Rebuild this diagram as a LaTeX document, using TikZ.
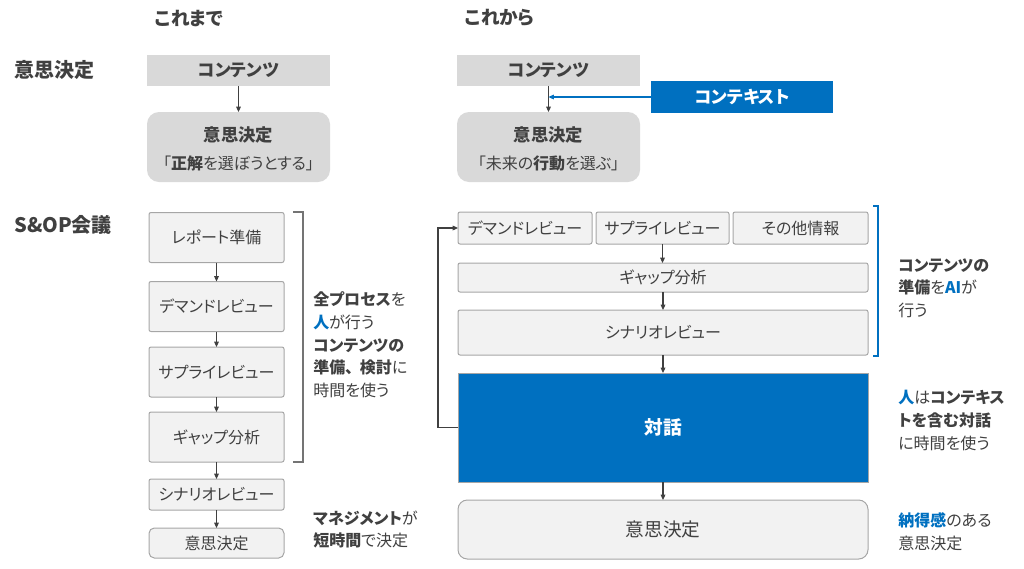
\documentclass[tikz,border=0pt]{standalone}
\usepackage{fontspec}
\setmainfont{Noto Sans CJK JP}[RawFeature=+palt]
\usetikzlibrary{arrows.meta}

\begin{document}
\begin{tikzpicture}[x=0.75pt, y=-0.75pt,
	txt/.style={text=textgray, font=\fontsize{12}{14}\selectfont, inner sep=0pt},
	head/.style={anchor=west, text=textgray, font=\fontsize{14}{17}\selectfont\bfseries, inner sep=0pt},
	side/.style={anchor=west, text=textgray, font=\fontsize{15}{18}\selectfont\bfseries, inner sep=0pt},
	topbox/.style={fill=topgray, minimum width=137.25pt, inner sep=0pt, outer sep=0pt,
		text=textgray, font=\fontsize{13}{15}\selectfont\bfseries},
	proc/.style={draw=linegray, fill=boxgray, line width=0.75pt, rounded corners=1.5pt,
		inner sep=0pt, outer sep=0pt, text=textgray, font=\fontsize{12}{14}\selectfont},
	flow/.style={draw=arrowgray, line width=0.8pt, -{Triangle[length=4pt, width=3.5pt]}},
	bracket/.style={line width=0.8pt},
	note/.style={anchor=west, align=left, inner sep=0pt, text=textgray,
		font=\fontsize{12}{17}\selectfont},
]
	\definecolor{textgray}{RGB}{64, 64, 64};
	\definecolor{arrowgray}{RGB}{64, 64, 64};
	\definecolor{topgray}{RGB}{217, 217, 217};
	\definecolor{boxgray}{RGB}{242, 242, 242};
	\definecolor{linegray}{RGB}{166, 166, 166};
	\definecolor{ctxblue}{RGB}{0, 112, 192};

	% \hl#text : bold blue words
	\def\hl#1{{\bfseries\color{ctxblue}#1}}

	\useasboundingbox (0,0) rectangle (1024,568);

	% headings
	\node[head] (old) at (155,18) {これまで};
	\node[head] (new) at (465,18) {これから};
	\node[side] (lbl1) at (14,70) {意思決定};
	\node[side] (lbl2) at (14,225) {S\&OP会議};

	% decision, before
	\node[topbox, minimum height=23.25pt] (cont1) at (238.5,70.5) {コンテンツ};
	\node[topbox, rounded corners=9pt, minimum height=52.5pt] (dec1) at (238.5,147) {};
	\node[txt, font=\fontsize{13}{15}\selectfont\bfseries] (dec1t) at (238.5,135) {意思決定};
	\node[txt] (dec1s) at (238.5,163) {「\textbf{正解}を選ぼうとする」};
	\draw[flow] (cont1) -- (dec1);

	% decision, after
	\node[topbox, minimum height=23.25pt] (cont2) at (548.5,70.5) {コンテンツ};
	\node[topbox, rounded corners=9pt, minimum height=52.5pt] (dec2) at (548.5,147) {};
	\node[txt, font=\fontsize{13}{15}\selectfont\bfseries] (dec2t) at (548.5,135) {意思決定};
	\node[txt] (dec2s) at (548.5,163) {「未来の\textbf{行動}を選ぶ」};
	\node[topbox, fill=ctxblue, text=white, minimum width=136.5pt, minimum height=24pt] (ctx) at (742,97) {コンテキスト};
	\coordinate (join) at (548.5,97);
	\draw[flow] (cont2) -- (dec2);
	\draw[flow, draw=ctxblue] (ctx) -- (join);

	% S&OP, before
	\node[proc, minimum width=101.25pt, minimum height=37.5pt] (rep) at (216.5,237.5) {レポート準備};
	\node[proc, minimum width=101.25pt, minimum height=37.5pt] (dem1) at (216.5,306.5) {デマンドレビュー};
	\node[proc, minimum width=101.25pt, minimum height=37.5pt] (sup1) at (216.5,372) {サプライレビュー};
	\node[proc, minimum width=101.25pt, minimum height=37.5pt] (gap1) at (216.5,437) {ギャップ分析};
	\node[proc, minimum width=101.25pt, minimum height=23.25pt] (scen1) at (216.5,494.5) {シナリオレビュー};
	\node[proc, minimum width=101.25pt, minimum height=22.5pt, rounded corners=4pt] (dec3) at (216.5,543) {意思決定};
	\foreach \a/\b in {rep/dem1, dem1/sup1, sup1/gap1, gap1/scen1, scen1/dec3}
		\draw[flow] (\a) -- (\b);
	\draw[bracket, draw=linegray!70!black] (293,212) -- (303,212) -- (303,462) -- (293,462);

	% S&OP, after
	\node[proc, minimum width=100.5pt, minimum height=24pt] (dem2) at (525,228) {デマンドレビュー};
	\node[proc, minimum width=99.75pt, minimum height=24pt] (sup2) at (662.5,228) {サプライレビュー};
	\node[proc, minimum width=101.25pt, minimum height=24pt] (oth) at (800.5,228) {その他情報};
	\node[proc, minimum width=307.5pt, minimum height=21.75pt] (gap2) at (663,277.5) {ギャップ分析};
	\node[proc, minimum width=307.5pt, minimum height=33.75pt] (scen2) at (663,332.5) {シナリオレビュー};
	\node[proc, minimum width=307.5pt, minimum height=81.75pt, rounded corners=0pt, fill=ctxblue,
		draw=linegray, text=white, font=\fontsize{14}{16}\selectfont\bfseries] (dia) at (663,427.5) {対話};
	\node[proc, minimum width=307.5pt, minimum height=44.25pt, rounded corners=7pt,
		font=\fontsize{14}{16}\selectfont] (dec4) at (663,529.5) {意思決定};
	\draw[flow] (sup2) -- (sup2 |- gap2.north);
	\draw[flow] (gap2) -- (scen2);
	\draw[flow] (scen2) -- (dia);
	\draw[flow] (dia) -- (dec4);
	\draw[flow] (dia.west) -- ++(-20,0) |- (dem2.west);
	\draw[bracket, draw=ctxblue] (873,206) -- (878,206) -- (878,356) -- (873,356);

	% notes
	\node[note] (n1) at (313,345) {\textbf{全プロセス}を\\\hl{人}が行う\\\textbf{コンテンツの}\\\textbf{準備、\hspace{5pt}検討}に\\時間を使う};
	\node[note] (n2) at (313,529.5) {\textbf{マネジメント}が\\\textbf{短時間}で決定};
	\node[note] (n3) at (898,288) {\textbf{コンテンツの}\\\textbf{準備}を\hl{AI}が\\行う};
	\node[note] (n4) at (898,420.5) {\hl{人}は\textbf{コンテキス}\\\textbf{トを含む対話}\\に時間を使う};
	\node[note] (n5) at (898,531.5) {\hl{納得感}のある\\意思決定};
\end{tikzpicture}
\end{document}
